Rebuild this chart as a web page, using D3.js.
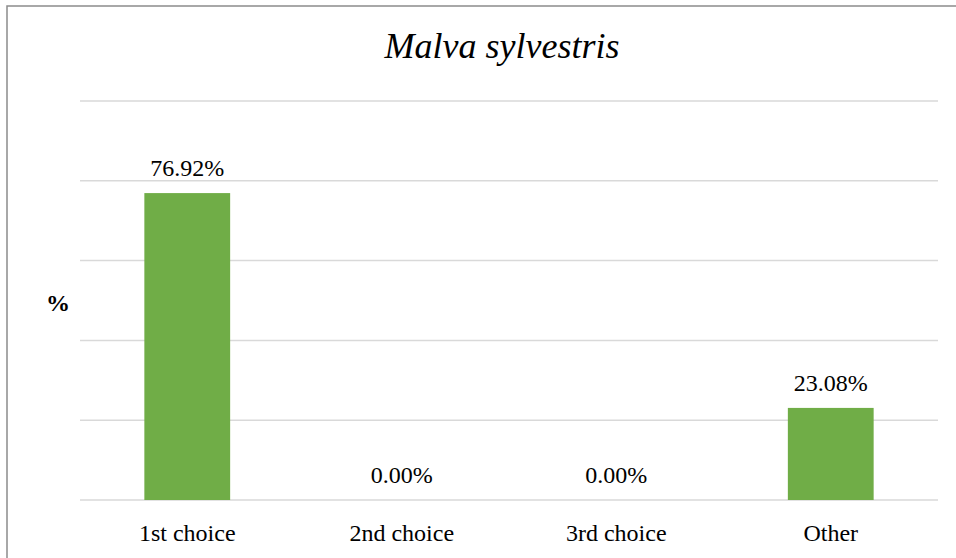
<!DOCTYPE html>
<html>
<head>
<meta charset="utf-8">
<script src="https://cdn.jsdelivr.net/npm/d3@7"></script>
<style>
  body { margin: 0; background: #fff; }
</style>
</head>
<body>
<div id="chart"></div>
<script>
var categories = ["1st choice", "2nd choice", "3rd choice", "Other"];
var values = [76.92, 0.00, 0.00, 23.08];
var yTicks = [0, 20, 40, 60, 80, 100];
var title = "Malva sylvestris";

var width = 956, height = 558;
var margin = {left: 80, right: 18, top: 101, bottom: 58};
var serif = "'Liberation Serif', 'Times New Roman', Times, 'DejaVu Serif', serif";

var svg = d3.select("#chart")
    .append("svg")
    .attr("width", width)
    .attr("height", height)
    .attr("font-family", serif);

// outer chart border (right and bottom edges fall outside the picture)
svg.append("rect")
    .attr("x", 7).attr("y", 6)
    .attr("width", 970).attr("height", 600)
    .attr("fill", "none")
    .attr("stroke", "#8c8c8c")
    .attr("stroke-width", 1.5);

var x = d3.scaleBand()
    .domain(categories)
    .range([margin.left, width - margin.right])
    .paddingInner(0.6)
    .paddingOuter(0.3);

var y = d3.scaleLinear()
    .domain([0, 100])
    .range([height - margin.bottom, margin.top]);

// gridlines
svg.append("g")
    .selectAll("line")
    .data(yTicks)
    .enter().append("line")
    .attr("x1", margin.left)
    .attr("x2", width - margin.right)
    .attr("y1", d => y(d))
    .attr("y2", d => y(d))
    .attr("stroke", "#d9d9d9")
    .attr("stroke-width", 1.5);

// bars
svg.append("g")
    .selectAll("rect")
    .data(values)
    .enter().append("rect")
    .attr("x", (d, i) => x(categories[i]))
    .attr("width", x.bandwidth())
    .attr("y", d => y(d))
    .attr("height", d => y(0) - y(d))
    .attr("fill", "#70ad47");

// value labels
svg.append("g")
    .selectAll("text")
    .data(values)
    .enter().append("text")
    .attr("x", (d, i) => x(categories[i]) + x.bandwidth() / 2)
    .attr("y", d => y(d) - 17)
    .attr("text-anchor", "middle")
    .attr("font-size", 24)
    .attr("fill", "#000")
    .text(d => d.toFixed(2) + "%");

// category labels
svg.append("g")
    .selectAll("text")
    .data(categories)
    .enter().append("text")
    .attr("x", d => x(d) + x.bandwidth() / 2)
    .attr("y", 541)
    .attr("text-anchor", "middle")
    .attr("font-size", 24)
    .attr("fill", "#000")
    .text(d => d);

// y axis title
svg.append("text")
    .attr("x", 58).attr("y", 311)
    .attr("text-anchor", "middle")
    .attr("font-size", 24)
    .attr("font-weight", "bold")
    .text("%");

// chart title
svg.append("text")
    .attr("x", 502).attr("y", 58)
    .attr("text-anchor", "middle")
    .attr("font-size", 36)
    .attr("font-style", "italic")
    .text(title);
</script>
</body>
</html>
